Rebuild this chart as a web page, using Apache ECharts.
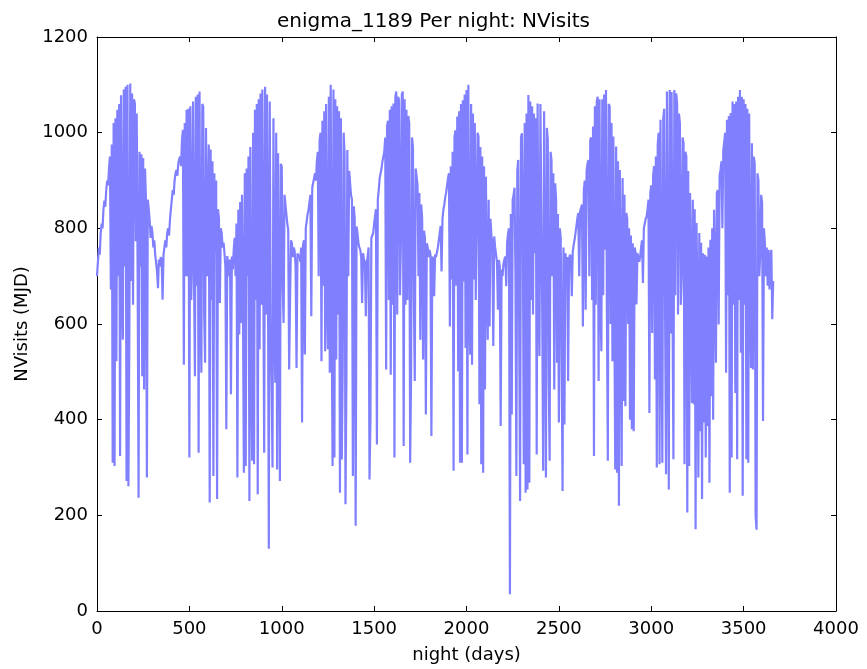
<!DOCTYPE html>
<html style="height: 100%">
<head>
  <meta charset="utf-8">
  <script src="https://cdn.jsdelivr.net/npm/echarts@6/dist/echarts.min.js"></script>
</head>
<body style="height: 100%; width: 100%; margin: 0; background: #fff">
<div id="chart" style="width: 867px; height: 669px;"></div>
<script type="text/javascript">
// one value every 5 nights, one array per season (73 values = 365 nights)
var nightStep = 5;
var xTicks = [0, 500, 1000, 1500, 2000, 2500, 3000, 3500, 4000];
var yTicks = [0, 200, 400, 600, 800, 1000, 1200];

var year1 = [700,730,760,745,790,810,800,840,858,845,
  880,900,890,925,950,672,975,310,1020,303,
  1030,522,1048,700,1060,324,1078,680,567,1090,
  720,1096,272,1100,261,567,1103,690,1082,640,
  1070,1061,773,1040,700,237,960,720,955,491,
  947,463,925,860,279,860,840,818,780,805,
  790,760,775,745,741,710,675,735,720,740,
  734,651,745];
var year2 = [760,775,760,790,800,785,818,840,860,880,
  870,900,915,922,910,935,945,950,930,985,
  1006,515,1020,700,1048,700,1050,321,1055,650,
  748,1065,700,491,1075,680,1080,331,1086,640,
  498,1060,1055,620,519,1010,700,700,975,227,
  965,650,940,282,915,750,900,234,840,820,
  644,800,790,760,770,748,720,380,742,741,
  700,735,453];
var year3 = [741,714,755,780,700,810,279,839,578,855,
  602,870,637,289,915,303,925,700,950,230,
  970,498,314,1000,307,1048,650,1060,244,1070,
  547,1082,640,1090,700,331,1096,620,1080,759,
  130,1065,600,481,300,1030,620,477,1000,296,
  957,650,272,935,929,680,602,870,850,830,
  810,797,505,651,775,769,740,760,752,720,
  508,748,740];
var year4 = [745,730,760,394,765,775,536,800,815,830,
  839,855,870,616,885,895,905,915,900,940,
  960,700,985,1000,522,1025,680,1045,543,1060,
  650,547,1075,498,1100,640,303,1090,321,1070,
  526,1055,620,1045,247,1030,317,512,1000,957,
  223,481,964,700,920,894,870,860,282,846,
  820,178,804,790,770,760,755,740,644,748,
  735,730,616];
var year5 = [727,740,760,275,400,780,785,790,810,825,
  840,348,860,880,905,915,925,940,943,960,
  990,505,1013,1025,650,1048,494,1055,640,1061,
  321,1075,1086,620,1075,1068,660,769,1080,1086,
  345,1070,640,1048,650,1035,1020,310,491,990,
  971,650,481,925,908,890,700,874,567,850,
  820,526,795,780,411,769,760,740,755,745,
  366,741,735];
var year6 = [658,745,740,750,760,775,790,805,710,820,
  839,850,865,875,890,905,915,595,930,693,
  960,293,990,1005,680,1034,501,1045,310,1060,
  310,1068,689,1080,550,1089,327,1100,640,536,
  1060,515,1040,693,1020,650,790,1000,992,432,
  970,307,950,289,930,463,908,700,567,860,
  595,820,783,770,554,783,760,745,730,630,
  734,720,387];
var year7 = [714,700,725,735,741,679,770,790,800,35,
  830,411,860,870,885,700,282,920,943,600,
  230,990,999,800,307,1020,247,1040,254,1079,
  268,1065,650,1055,620,1040,748,1030,327,1061,
  640,533,1060,1061,620,293,1045,1041,279,1010,
  985,488,314,960,943,700,915,463,894,860,
  519,830,394,800,780,776,251,760,390,748,
  730,740,481];
var year8 = [735,745,740,658,750,765,776,790,805,820,
  832,700,835,839,850,595,880,900,630,920,
  935,943,700,985,990,650,1013,324,1055,640,
  1065,1075,481,1070,640,543,1070,660,1080,755,
  1089,620,314,1060,1055,600,1020,522,992,640,
  296,971,289,940,220,922,700,303,905,439,
  870,428,832,820,600,800,400,785,380,769,
  376,760,750];
var year9 = [641,748,745,730,741,760,775,686,800,810,
  820,825,840,860,414,874,890,581,908,930,
  484,950,300,975,1000,307,1027,640,310,1030,
  1050,620,286,1086,650,254,1089,580,1085,640,
  317,1089,660,1082,1060,620,1040,1020,640,700,
  990,978,307,960,950,206,920,303,874,700,
  435,860,432,840,171,811,650,279,790,376,
  770,234,748];
var year10 = [394,745,321,741,387,760,268,776,449,800,
  400,839,700,519,874,880,599,910,922,940,
  800,964,980,1000,498,1027,660,1035,247,1041,
  321,1065,640,1060,456,1065,317,1075,650,1089,
  540,1075,241,1070,640,1060,317,1050,310,1040,
  650,508,978,505,950,936,199,170,915,901,
  700,748,870,853,397,800,769,700,760,680,
  755,672,740,755,610,690];

var nvisits = [].concat(year1, year2, year3, year4, year5, year6, year7, year8, year9, year10);
var points = nvisits.map(function (v, i) { return [i * nightStep, v]; });

var font = 'DejaVu Sans';
var black = '#000';

function plain(v) { return String(v); }

function axisBase(extra) {
  var a = {
    type: 'value',
    axisLine: { show: true, onZero: false, lineStyle: { color: black, width: 1 } },
    axisTick: { show: true, inside: true, length: 5, lineStyle: { color: black, width: 1 } },
    splitLine: { show: false },
    axisLabel: { show: true, color: black, fontFamily: font, fontSize: 18, formatter: plain }
  };
  for (var k in extra) a[k] = extra[k];
  return a;
}

var chart = echarts.init(document.getElementById('chart'), null, { renderer: 'canvas' });

var option = {
  animation: false,
  backgroundColor: '#fff',
  title: {
    text: 'enigma_1189 Per night: NVisits',
    left: 'center',
    top: 7,
    textStyle: { fontFamily: font, fontSize: 20, fontWeight: 'normal', color: black }
  },
  grid: { left: 97, right: 31, top: 37, bottom: 57, containLabel: false },
  xAxis: [
    axisBase({
      min: xTicks[0], max: xTicks[xTicks.length - 1], interval: 500,
      position: 'bottom',
      name: 'night (days)', nameLocation: 'middle', nameGap: 35,
      nameTextStyle: { fontFamily: font, fontSize: 18, color: black },
      axisLabel: { show: true, color: black, fontFamily: font, fontSize: 18, margin: 9, formatter: plain }
    }),
    axisBase({
      min: xTicks[0], max: xTicks[xTicks.length - 1], interval: 500,
      position: 'top',
      axisLabel: { show: false }
    })
  ],
  yAxis: [
    axisBase({
      min: yTicks[0], max: yTicks[yTicks.length - 1], interval: 200,
      position: 'left',
      name: 'NVisits (MJD)', nameLocation: 'middle', nameGap: 62,
      nameTextStyle: { fontFamily: font, fontSize: 18, color: black },
      axisLabel: { show: true, color: black, fontFamily: font, fontSize: 18, margin: 9, formatter: plain }
    }),
    axisBase({
      min: yTicks[0], max: yTicks[yTicks.length - 1], interval: 200,
      position: 'right',
      axisLabel: { show: false }
    })
  ],
  series: [{
    type: 'line',
    data: points,
    xAxisIndex: 0,
    yAxisIndex: 0,
    showSymbol: false,
    sampling: false,
    lineStyle: { color: '#8080ff', width: 2.2 },
    itemStyle: { color: '#8080ff' }
  }]
};

chart.setOption(option);
</script>
</body>
</html>
